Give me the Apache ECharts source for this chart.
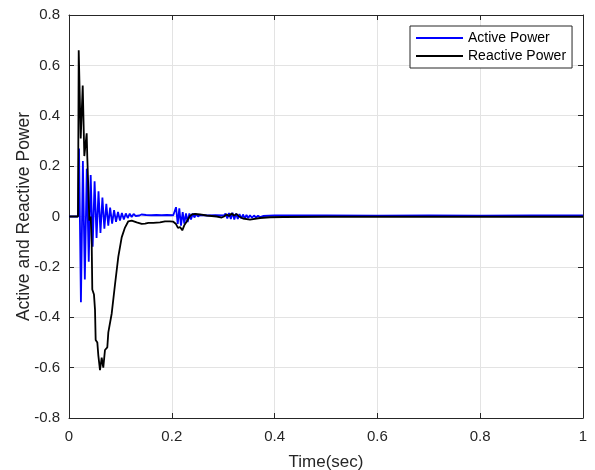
<!DOCTYPE html>
<html>
<head>
<meta charset="utf-8">
<script src="https://cdn.jsdelivr.net/npm/echarts@6/dist/echarts.min.js"></script>
<style>html,body{margin:0;padding:0;background:#fff}#c{width:595px;height:470px}</style>
</head>
<body>
<div id="c"></div>
<script>
const seriesNames = ['Active Power', 'Reactive Power'];
const xTicks = [0, 0.2, 0.4, 0.6, 0.8, 1];
const yTicks = [-0.8, -0.6, -0.4, -0.2, 0, 0.2, 0.4, 0.6, 0.8];

const activeTime = [0, 0.0175, 0.0195, 0.0232, 0.0270, 0.0308, 0.0346, 0.0384, 0.0422, 0.0460,
  0.0498, 0.0536, 0.0574, 0.0612, 0.0650, 0.0688, 0.0726, 0.0764, 0.0800, 0.0839,
  0.0877, 0.0915, 0.0953, 0.0991, 0.1029, 0.1067, 0.1105, 0.1143, 0.1181, 0.1219,
  0.1257, 0.1295, 0.1333, 0.1370, 0.1410, 0.1500, 0.1600, 0.1700, 0.1800, 0.1900,
  0.2029, 0.2082, 0.2115, 0.2146, 0.2179, 0.2212, 0.2243, 0.2276, 0.2309, 0.2342,
  0.2374, 0.2407, 0.2440, 0.2471, 0.2510, 0.2549, 0.2700, 0.2850, 0.3016, 0.3045,
  0.3080, 0.3113, 0.3148, 0.3181, 0.3216, 0.3249, 0.3284, 0.3317, 0.3352, 0.3385,
  0.3420, 0.3453, 0.3488, 0.3521, 0.3560, 0.3599, 0.3638, 0.3677, 0.3716, 0.3774,
  0.4000, 0.5000, 0.6000, 0.7000, 0.8000, 0.9000, 1.0000];
const activePower = [0, 0, 0.27, -0.34, 0.22, -0.25, 0.19, -0.18, 0.165, -0.12,
  0.14, -0.085, 0.10, -0.065, 0.075, -0.048, 0.05, -0.036, 0.035, -0.028,
  0.025, -0.021, 0.018, -0.016, 0.014, -0.012, 0.012, -0.006, 0.011, -0.002,
  0.010, 0.002, 0.009, 0.004, 0.008, 0.006, 0.005, 0.006, 0.005, 0.006,
  0.005, 0.037, -0.029, 0.032, -0.036, 0.017, -0.028, 0.012, -0.022, 0.012,
  -0.012, 0.012, -0.004, 0.010, 0.0, 0.006, 0.004, 0.005, 0.004, 0.012,
  -0.008, 0.014, -0.010, 0.015, -0.012, 0.012, -0.010, 0.010, -0.008, 0.008,
  -0.008, 0.006, -0.006, 0.005, -0.005, 0.004, -0.004, 0.003, -0.002, 0.002,
  0.004, 0.004, 0.003, 0.004, 0.003, 0.004, 0.004];

const reactiveTime = [0, 0.0175, 0.0189, 0.0228, 0.0267, 0.0298, 0.0344, 0.0356, 0.0375, 0.0395,
  0.0422, 0.0442, 0.0453, 0.0486, 0.0506, 0.0519, 0.0551, 0.0570, 0.0603, 0.0636,
  0.0667, 0.0700, 0.0745, 0.0765, 0.0831, 0.0895, 0.0959, 0.1025, 0.1089, 0.1154,
  0.1220, 0.1317, 0.1414, 0.1480, 0.1543, 0.1640, 0.1770, 0.1868, 0.1965, 0.2023,
  0.2082, 0.2120, 0.2160, 0.2204, 0.2243, 0.2290, 0.2325, 0.2354, 0.2393, 0.2451,
  0.2549, 0.2679, 0.2874, 0.2971, 0.3016, 0.3068, 0.3113, 0.3165, 0.3210, 0.3263,
  0.3307, 0.3385, 0.3521, 0.3716, 0.3911, 0.4163, 0.5000, 0.6000, 0.7000, 0.8000,
  0.9000, 1.0000];
const reactivePower = [0, 0, 0.66, 0.31, 0.52, 0.24, 0.33, 0.235, 0.12, -0.016,
  0.0, -0.11, -0.29, -0.31, -0.37, -0.49, -0.50, -0.55, -0.61, -0.56,
  -0.60, -0.53, -0.52, -0.46, -0.385, -0.27, -0.16, -0.083, -0.044, -0.019,
  -0.016, -0.023, -0.029, -0.028, -0.025, -0.025, -0.023, -0.019, -0.019, -0.02,
  -0.03, -0.045, -0.042, -0.055, -0.035, -0.02, -0.008, 0.002, 0.008, 0.010,
  0.008, 0.004, 0.0, -0.004, 0.0, 0.008, 0.002, 0.012, 0.004, 0.010,
  0.0, -0.008, -0.012, -0.006, -0.003, -0.002, -0.001, -0.001, -0.001, -0.001,
  -0.001, -0.001];

const FONT = 'Liberation Sans, Arial, sans-serif';
const TXT = '#262626';

function pairs(t, v) { return t.map((x, i) => [x, v[i]]); }

const chart = echarts.init(document.getElementById('c'), null, { renderer: 'canvas' });

const baseAxis = {
  nameMoveOverlap: false,
  axisLine: { show: true, onZero: false, lineStyle: { color: TXT, width: 1 } },
  axisTick: { show: true, inside: true, length: 5, lineStyle: { color: TXT } },
};

function tickText(list, v) {
  const t = list.find(t => Math.abs(t - v) < 1e-9);
  return String(t === undefined ? v : (t === 0 ? 0 : t));
}

chart.setOption({
  animation: false,
  backgroundColor: '#fff',
  grid: { left: 69, right: 12, top: 15, bottom: 52, containLabel: false, outerBoundsMode: 'none' },
  legend: {
    data: seriesNames.map(n => ({ name: n, itemStyle: { opacity: 0 } })),
    orient: 'vertical',
    left: 410, top: 26,
    padding: [5, 6, 5, 5],
    itemGap: 4,
    itemWidth: 47, itemHeight: 14,
    borderColor: TXT, borderWidth: 1,
    backgroundColor: '#fff',
    textStyle: { fontFamily: FONT, fontSize: 14, color: '#000' },
  },
  xAxis: [
    Object.assign({}, baseAxis, {
      type: 'value', min: 0, max: 1, interval: 0.2, position: 'bottom',
      name: 'Time(sec)', nameLocation: 'middle', nameGap: 36,
      nameTextStyle: { fontFamily: FONT, fontSize: 17, color: TXT },
      axisLabel: { fontFamily: FONT, fontSize: 15, color: TXT, margin: 11,
        formatter: v => tickText(xTicks, v) },
      splitLine: { show: true, lineStyle: { color: '#e3e3e3', width: 1 } },
    }),
    Object.assign({}, baseAxis, {
      type: 'value', min: 0, max: 1, interval: 0.2, position: 'top',
      axisLabel: { show: false }, splitLine: { show: false },
    }),
  ],
  yAxis: [
    Object.assign({}, baseAxis, {
      type: 'value', min: -0.8, max: 0.8, interval: 0.2, position: 'left',
      name: 'Active and Reactive Power', nameLocation: 'middle', nameGap: 36,
      nameTextStyle: { fontFamily: FONT, fontSize: 17.5, color: TXT },
      axisLabel: { fontFamily: FONT, fontSize: 15, color: TXT, margin: 9,
        formatter: v => tickText(yTicks, v) },
      splitLine: { show: true, lineStyle: { color: '#e3e3e3', width: 1 } },
    }),
    Object.assign({}, baseAxis, {
      type: 'value', min: -0.8, max: 0.8, interval: 0.2, position: 'right',
      axisLabel: { show: false }, splitLine: { show: false },
    }),
  ],
  series: [
    {
      name: seriesNames[0], type: 'line', xAxisIndex: 0, yAxisIndex: 0,
      data: pairs(activeTime, activePower),
      symbol: 'none', showSymbol: false, sampling: null,
      lineStyle: { color: '#0000ff', width: 1.8 }, itemStyle: { color: '#0000ff' },
      z: 2,
    },
    {
      name: seriesNames[1], type: 'line', xAxisIndex: 0, yAxisIndex: 0,
      data: pairs(reactiveTime, reactivePower),
      symbol: 'none', showSymbol: false, sampling: null,
      lineStyle: { color: '#000000', width: 1.8 }, itemStyle: { color: '#000000' },
      z: 3,
    },
  ],
});
</script>
</body>
</html>
